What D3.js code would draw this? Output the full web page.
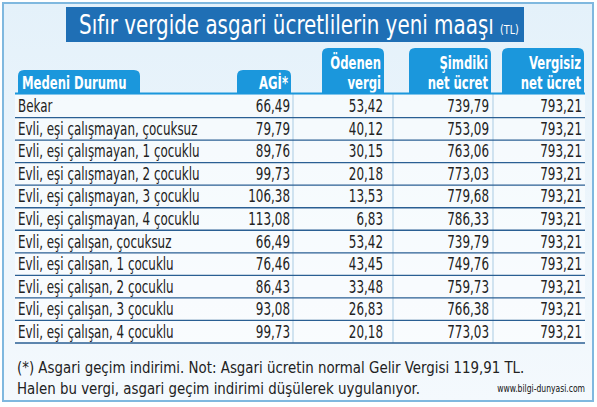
<!DOCTYPE html><html><head><meta charset="utf-8"><script src="https://cdn.jsdelivr.net/npm/d3@7"></script>
<style>body{margin:0;background:#fff}text{font-family:"DejaVu Sans Condensed","DejaVu Sans",sans-serif}</style></head><body><svg id="c" width="597" height="407"></svg>
<script>
const categories=["Bekar","Evli, eşi çalışmayan, çocuksuz","Evli, eşi çalışmayan, 1 çocuklu","Evli, eşi çalışmayan, 2 çocuklu","Evli, eşi çalışmayan, 3 çocuklu","Evli, eşi çalışmayan, 4 çocuklu","Evli, eşi çalışan, çocuksuz","Evli, eşi çalışan, 1 çocuklu","Evli, eşi çalışan, 2 çocuklu","Evli, eşi çalışan, 3 çocuklu","Evli, eşi çalışan, 4 çocuklu"];
const agi=["66,49","79,79","89,76","99,73","106,38","113,08","66,49","76,46","86,43","93,08","99,73"];
const odenen=["53,42","40,12","30,15","20,18","13,53","6,83","53,42","43,45","33,48","26,83","20,18"];
const simdiki=["739,79","753,09","763,06","773,03","779,68","786,33","739,79","749,76","759,73","766,38","773,03"];
const vergisiz=["793,21","793,21","793,21","793,21","793,21","793,21","793,21","793,21","793,21","793,21","793,21"];
const headers=[["Medeni Durumu"],["AGİ*"],["Ödenen","vergi"],["Şimdiki","net ücret"],["Vergisiz","net ücret"]];
const svg=d3.select("#c");
function txt(x,y,s,size,opt={}){
 const sx=opt.sx||0.78;
 return svg.append("text").attr("transform",`translate(${x},${y}) scale(${sx},1)`).attr("text-anchor",opt.anchor||"start")
  .attr("font-size",size).attr("fill",opt.fill||"#222").attr("font-weight",opt.bold?"bold":null).text(s);
}
const defs=svg.append("defs");
const g=defs.append("linearGradient").attr("id","bg").attr("x1",0).attr("y1",0).attr("x2",0).attr("y2",1);
g.append("stop").attr("offset",0).attr("stop-color","#e4f1fa");g.append("stop").attr("offset",1).attr("stop-color","#f4f9fd");
svg.append("rect").attr("x",3).attr("y",3).attr("width",590).attr("height",398).attr("fill","url(#bg)").attr("stroke","#7fb8df").attr("stroke-width",2);
svg.append("rect").attr("x",66).attr("y",7).attr("width",458).attr("height",35).attr("fill","#1f6fb5");
const t=txt(79,34,"",27,{fill:"#fff",sx:0.82});
t.append("tspan").text("Sıfır vergide asgari ücretlilerin yeni maaşı ");t.append("tspan").attr("font-size",13).text("(TL)");
const y=d3.scaleBand().domain(d3.range(11)).range([95,343]);
const right=[290,383,489,582];
const tabs=[[18,140,70],[237,291,70],[322,384,48],[409,491,48],[502,584,48]];
svg.append("rect").attr("x",15).attr("y",95).attr("width",570).attr("height",248).attr("fill","#fff").attr("opacity",0.55);
tabs.forEach((tb,i)=>{
 svg.append("path").attr("d",`M${tb[0]},93V${tb[2]+6}Q${tb[0]},${tb[2]} ${tb[0]+6},${tb[2]}H${tb[1]-6}Q${tb[1]},${tb[2]} ${tb[1]},${tb[2]+6}V93Z`).attr("fill","#1b97dc");
 const h=headers[i];
 h.forEach((s,j)=>txt(i==0?tb[0]+4:tb[1]-3,89-(h.length-1-j)*20,s,18,{anchor:i==0?"start":"end",fill:"#fff",bold:true,sx:0.72}));
});
[293,393,493].forEach(x=>svg.append("line").attr("x1",x).attr("x2",x).attr("y1",93).attr("y2",343).attr("stroke","#a9cbe3"));
svg.append("line").attr("x1",15).attr("x2",585).attr("y1",93.5).attr("y2",93.5).attr("stroke","#1b97dc").attr("stroke-width",2);
d3.range(1,12).forEach(i=>svg.append("line").attr("x1",15).attr("x2",585).attr("y1",i==11?343:y(i)).attr("y2",i==11?343:y(i)).attr("stroke","#2a5f93").attr("stroke-width",1.3));
categories.forEach((c,i)=>{
 const yy=y(i)+y.bandwidth()/2+6;
 const r=[c,agi[i],odenen[i],simdiki[i],vergisiz[i]];
 txt(18,yy,r[0],17);
 for(let k=1;k<5;k++) txt(right[k-1],yy,r[k],17,{anchor:"end"});
});
txt(17,373,"(*) Asgari geçim indirimi. Not: Asgari ücretin normal Gelir Vergisi 119,91 TL.",16,{sx:0.93});
txt(17,394,"Halen bu vergi, asgari geçim indirimi düşülerek uygulanıyor.",16,{sx:0.93});
txt(585,392,"www.bilgi-dunyasi.com",10,{anchor:"end",fill:"#111",sx:0.85});
</script></body></html>
